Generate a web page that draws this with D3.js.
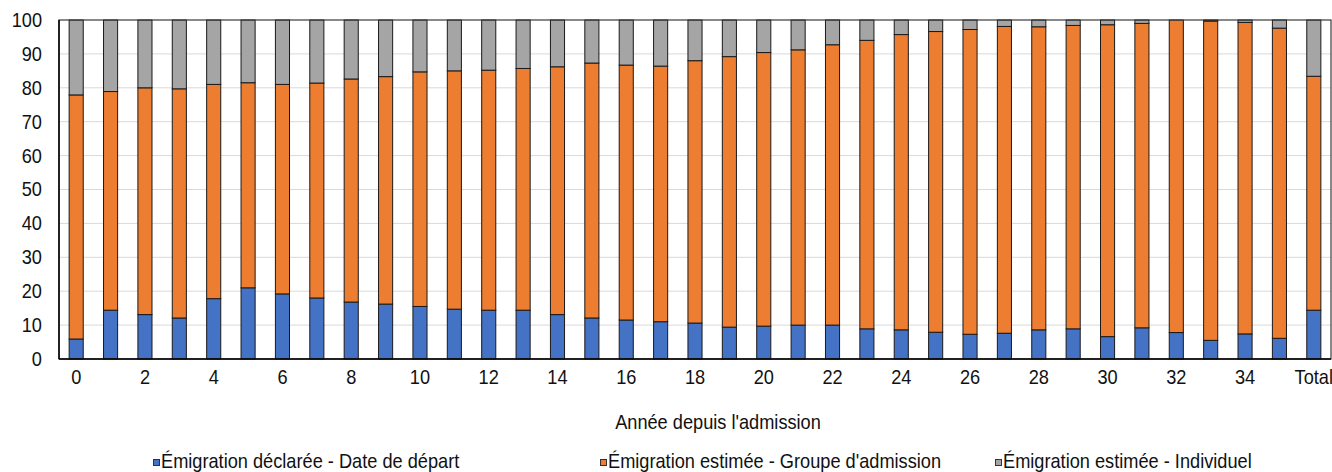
<!DOCTYPE html>
<html><head><meta charset="utf-8">
<script src="https://cdn.jsdelivr.net/npm/d3@7"></script>
<style>
html,body{margin:0;padding:0;background:#fff;}
svg text{font-family:"Liberation Sans",Arial,sans-serif;fill:#111;}
</style></head>
<body><svg id="c" width="1332" height="472"></svg>
<script>
const categories = ["0","1","2","3","4","5","6","7","8","9","10","11","12","13","14","15","16","17","18","19","20","21","22","23","24","25","26","27","28","29","30","31","32","33","34","35","Total"];
const declaredDeparture = [5.9,14.4,13.1,12.1,17.8,21.0,19.2,18.0,16.8,16.2,15.5,14.7,14.4,14.4,13.1,12.1,11.5,11.0,10.6,9.4,9.7,10.0,10.0,8.9,8.6,7.9,7.3,7.6,8.6,8.9,6.6,9.2,7.8,5.5,7.4,6.1,14.4];
const estimatedGroup = [72.0,64.5,66.9,67.6,63.2,60.5,61.8,63.4,65.8,67.1,69.2,70.3,70.8,71.3,73.1,75.2,75.2,75.4,77.4,79.8,80.7,81.2,82.7,85.1,87.1,88.7,89.9,90.5,89.4,89.5,92.0,89.8,92.2,94.2,91.9,91.5,69.0];
const estimatedIndividual = [22.1,21.1,20.0,20.3,19.0,18.5,19.0,18.6,17.4,16.7,15.3,15.0,14.8,14.3,13.8,12.7,13.3,13.6,12.0,10.8,9.6,8.8,7.3,6.0,4.3,3.4,2.8,1.9,2.0,1.6,1.4,1.0,0.0,0.3,0.7,2.4,16.6];
const seriesNames = ["Émigration déclarée - Date de départ","Émigration estimée - Groupe d'admission","Émigration estimée - Individuel"];
const colors = ["#4472C4","#ED7D31","#A5A5A5"];
const yTicks = [0,10,20,30,40,50,60,70,80,90,100];
const xLabelShown = ["0","2","4","6","8","10","12","14","16","18","20","22","24","26","28","30","32","34","Total"];
const xTitle = "Année depuis l'admission";

const svg = d3.select("#c");
const L = 59, R = 1331, T = 20, B = 359;
const FS = "20px", SX = 0.91;
function narrow(sel){
  sel.each(function(){
    const t = d3.select(this);
    const x0 = +t.attr("x") || 0;
    t.attr("x",0).attr("transform",`translate(${x0},0) scale(${SX},1)`).style("font-size",FS);
  });
}
const keys = ["a","b","c"];
const rows = categories.map((c,i)=>({cat:c,a:declaredDeparture[i],b:estimatedGroup[i],c:estimatedIndividual[i]}));
const stack = d3.stack().keys(keys)(rows);

const x = d3.scaleBand().domain(categories).range([L,R]).paddingInner(0.59).paddingOuter(0.295);
const y = d3.scaleLinear().domain([0,100]).range([B,T]);

// gridlines
svg.append("g").selectAll("line").data(yTicks.filter(v=>v>0&&v<100)).join("line")
  .attr("x1",L).attr("x2",R).attr("y1",d=>y(d)).attr("y2",d=>y(d))
  .attr("stroke","#d9d9d9").attr("stroke-width",1);

// bars
svg.append("g").selectAll("g").data(stack).join("g")
  .attr("fill",(d,i)=>colors[i])
  .selectAll("rect").data(d=>d.filter(s=>s[1]-s[0]>0)).join("rect")
  .attr("x",d=>x(d.data.cat)).attr("width",x.bandwidth())
  .attr("y",d=>y(d[1])).attr("height",d=>y(d[0])-y(d[1]))
  .attr("stroke","#1a1a1a").attr("stroke-width",1);

// frame
svg.append("rect").attr("x",L).attr("y",T).attr("width",R-L).attr("height",B-T)
  .attr("fill","none").attr("stroke","#3a3a3a").attr("stroke-width",1.2);
svg.append("line").attr("x1",L).attr("x2",R).attr("y1",B).attr("y2",B).attr("stroke","#000").attr("stroke-width",1.5);
svg.append("line").attr("x1",L).attr("x2",L).attr("y1",T).attr("y2",B).attr("stroke","#000").attr("stroke-width",1.5);

// y axis
const ya = svg.append("g").attr("transform",`translate(${L},0)`)
  .call(d3.axisLeft(y).tickValues(yTicks).tickSize(0).tickPadding(17));
ya.select(".domain").remove();
ya.selectAll("text").call(narrow);

// x axis
const xa = svg.append("g").attr("transform",`translate(0,${B})`)
  .call(d3.axisBottom(x).tickValues(xLabelShown).tickSize(0).tickPadding(11));
xa.select(".domain").remove();
xa.selectAll("text").call(narrow);

// x title
svg.append("text").attr("x",718).attr("y",429).attr("text-anchor","middle")
  .text(xTitle).call(narrow);

// legend
const legX = [153,600,995];
const lg = svg.append("g").selectAll("g").data(seriesNames).join("g")
  .attr("transform",(d,i)=>`translate(${legX[i]},0)`);
lg.append("rect").attr("x",0.5).attr("y",459.5).attr("width",6).attr("height",6)
  .attr("fill",(d,i)=>colors[i]).attr("stroke","#333").attr("stroke-width",1);
lg.append("text").attr("x",8).attr("y",468).text(d=>d).call(narrow);
</script></body></html>
